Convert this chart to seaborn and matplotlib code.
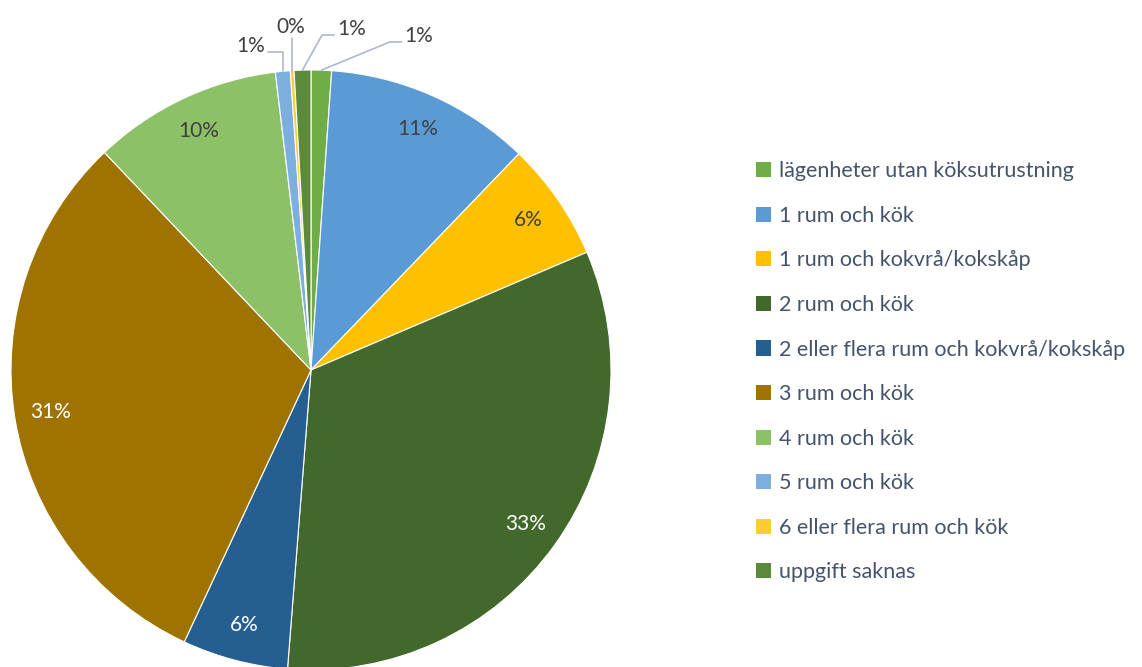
import numpy as np
import matplotlib
matplotlib.use("Agg")
import matplotlib.pyplot as plt
from matplotlib.patches import Patch
import seaborn as sns

sns.set_theme(style="white")
plt.rcParams["font.family"] = ["Lato", "DejaVu Sans"]

# -------------------------------------------------------------
# Data
# -------------------------------------------------------------
categories = [
    "lägenheter utan köksutrustning",
    "1 rum och kök",
    "1 rum och kokvrå/kokskåp",
    "2 rum och kök",
    "2 eller flera rum och kokvrå/kokskåp",
    "3 rum och kök",
    "4 rum och kök",
    "5 rum och kök",
    "6 eller flera rum och kök",
    "uppgift saknas",
]
shares = [1.1, 11.1, 6.4, 32.7, 5.7, 31.0, 10.2, 0.8, 0.2, 0.9]
colors = ["#70AD47", "#5B9BD5", "#FFC000", "#43682B", "#255E91",
          "#9E7300", "#8CC168", "#7CAFDD", "#FFCD33", "#5A8A3A"]
label_colors = ["#404040", "#404040", "#404040", "white", "white",
                "white", "#404040", "#404040", "#404040", "#404040"]
# which slices get an outside label with a leader line
outside = [True, False, False, False, False, False, False, True, True, True]

W, H = 1142, 667
fig = plt.figure(figsize=(W / 100, H / 100), dpi=100)
cx, cy, R = 311, 370, 300
ax = fig.add_axes([(cx - R) / W, (H - cy - R) / H, 2 * R / W, 2 * R / H])

wedges, _ = ax.pie(shares, colors=colors, startangle=90, counterclock=False,
                   wedgeprops=dict(edgecolor="white", linewidth=0.8))
ax.set_xlim(-1, 1)
ax.set_ylim(-1, 1)
ax.set_aspect("equal")
ax.axis("off")

total = sum(shares)
# leader line elbow (data units, relative to wedge edge point)
out_offsets = {0: (0.228, 0.094), 7: (0.0, 0.065), 8: (0.0, 0.107), 9: (0.065, 0.117)}
line_col = "#ADB9CA"
lkw = dict(color=line_col, lw=1.2, clip_on=False)
tkw = dict(fontsize=15, color="#404040", clip_on=False)
for i, w in enumerate(wedges):
    ang = np.deg2rad((w.theta1 + w.theta2) / 2)
    pct = f"{shares[i] / total * 100:.0f}%"
    if not outside[i]:
        r = 0.88
        ax.text(r * np.cos(ang), r * np.sin(ang), pct, ha="center", va="center",
                fontsize=15, color=label_colors[i])
        continue
    x0, y0 = np.cos(ang), np.sin(ang)
    dx, dy = out_offsets[i]
    ex, ey = x0 + dx, y0 + dy
    if i == 8:
        ax.plot([x0, x0], [y0, ey], **lkw)
        ax.text(x0 - 0.005, ey + 0.005, pct, ha="center", va="bottom", **tkw)
    elif i == 7:
        ax.plot([x0, x0, x0 - 0.05], [y0, ey, ey], **lkw)
        ax.text(x0 - 0.06, ey + 0.02, pct, ha="right", va="center", **tkw)
    else:
        ax.plot([x0, ex, ex + 0.04], [y0, ey, ey], **lkw)
        ax.text(ex + 0.05, ey + 0.02, pct, ha="left", va="center", **tkw)

handles = [Patch(facecolor=c, edgecolor="none") for c in colors]
leg = fig.legend(handles, categories, loc="upper left", bbox_to_anchor=(737 / W, 1 - 142 / H),
                 frameon=False, fontsize=15.5, handlelength=0.7, handleheight=0.7,
                 handletextpad=0.35, labelspacing=1.14, labelcolor="#44546A")

fig.savefig("out.png", dpi=100)
